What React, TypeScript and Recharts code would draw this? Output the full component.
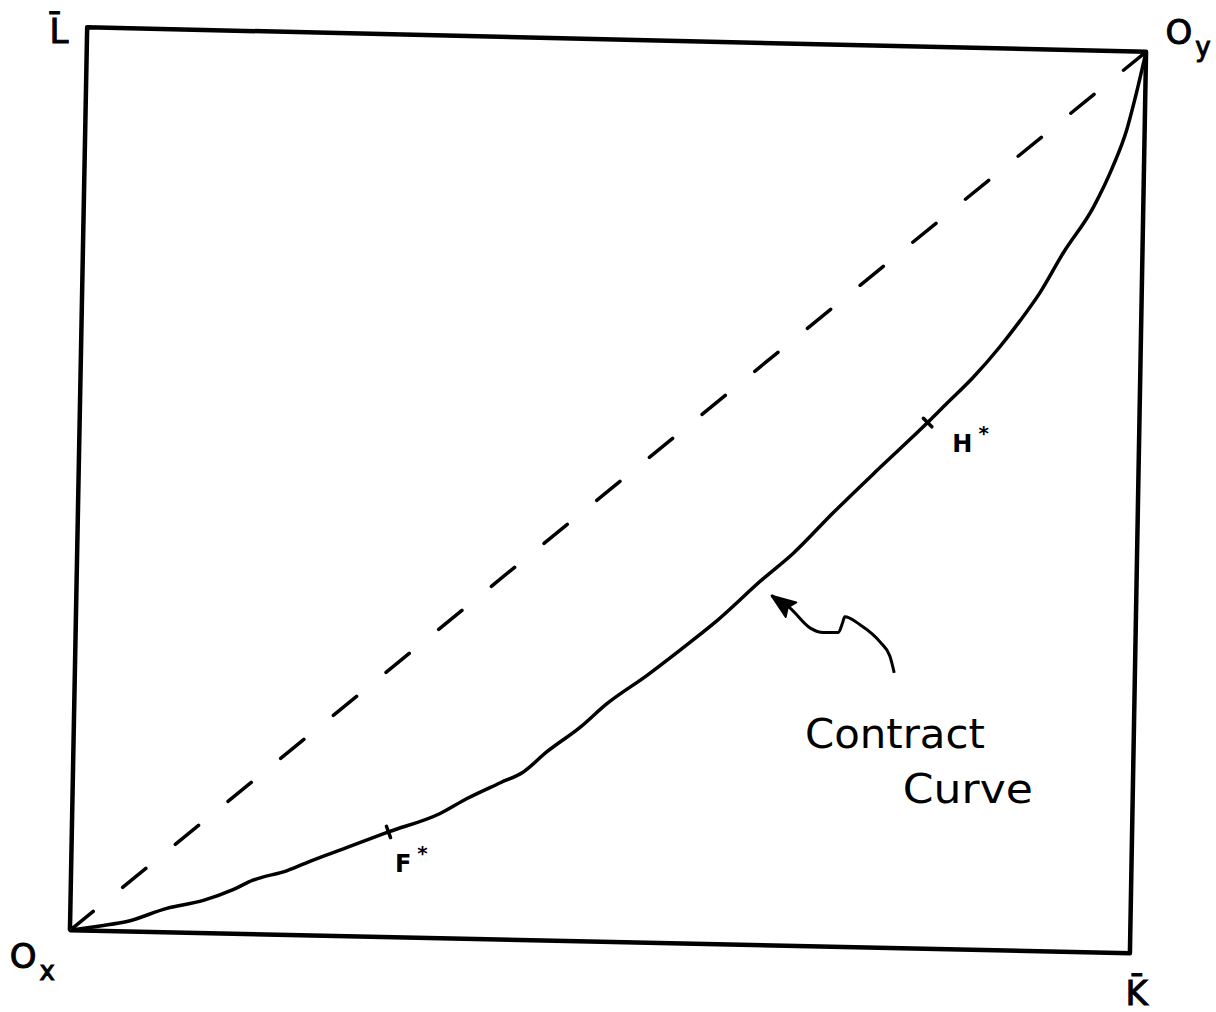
import { ComposedChart, Line, Scatter, XAxis, YAxis } from "recharts";

const W = 1216;
const H = 1012;

// capital K along x, labour L along y; the hand drawn box is a bit skewed
const BOX = [
  { x: 0, y: 0 },
  { x: 9.85, y: -0.26 },
  { x: 10, y: 10 },
  { x: 0.16, y: 10.28 },
  { x: 0, y: 0 },
];

const DIAGONAL = [
  { x: 0, y: 0 },
  { x: 10, y: 10 },
];

const CONTRACT = [
  { x: 0, y: 0 },
  { x: 0.28, y: 0.05 },
  { x: 0.53, y: 0.1 },
  { x: 0.9, y: 0.25 },
  { x: 1.24, y: 0.34 },
  { x: 1.51, y: 0.46 },
  { x: 1.7, y: 0.57 },
  { x: 2.02, y: 0.68 },
  { x: 2.26, y: 0.8 },
  { x: 2.57, y: 0.94 },
  { x: 2.96, y: 1.12 },
  { x: 3.44, y: 1.33 },
  { x: 3.69, y: 1.5 },
  { x: 4.0, y: 1.68 },
  { x: 4.21, y: 1.8 },
  { x: 4.43, y: 2.03 },
  { x: 4.74, y: 2.31 },
  { x: 4.99, y: 2.58 },
  { x: 5.36, y: 2.9 },
  { x: 5.67, y: 3.19 },
  { x: 5.98, y: 3.49 },
  { x: 6.44, y: 4.0 },
  { x: 6.72, y: 4.29 },
  { x: 7.09, y: 4.75 },
  { x: 7.53, y: 5.27 },
  { x: 7.97, y: 5.78 },
  { x: 8.15, y: 6.0 },
  { x: 8.39, y: 6.29 },
  { x: 8.64, y: 6.64 },
  { x: 8.83, y: 6.94 },
  { x: 9.01, y: 7.25 },
  { x: 9.23, y: 7.71 },
  { x: 9.51, y: 8.23 },
  { x: 9.69, y: 8.69 },
  { x: 9.82, y: 9.11 },
  { x: 9.9, y: 9.48 },
  { x: 10, y: 10 },
];

// squiggly pointer from the note to the curve, tip first
const ARROW = [
  { x: 6.52, y: 3.81 },
  { x: 6.69, y: 3.67 },
  { x: 6.88, y: 3.44 },
  { x: 7.0, y: 3.39 },
  { x: 7.14, y: 3.39 },
  { x: 7.18, y: 3.5 },
  { x: 7.2, y: 3.57 },
  { x: 7.34, y: 3.48 },
  { x: 7.53, y: 3.28 },
  { x: 7.62, y: 3.12 },
  { x: 7.66, y: 2.93 },
];

const MARKS = [
  { x: 2.96, y: 1.12, name: "F" },
  { x: 7.97, y: 5.78, name: "H" },
];

const POINT_LABELS = [
  { x: 3.02, y: 0.66, text: "F", sup: "*" },
  { x: 8.2, y: 5.44, text: "H", sup: "*" },
];

const CORNER_LABELS = [
  { x: -0.19, y: 10.1, text: "L\u0304", sub: "" },
  { x: 9.81, y: -0.85, text: "K\u0304", sub: "" },
  { x: -0.56, y: -0.43, text: "O", sub: "x" },
  { x: 10.18, y: 10.09, text: "O", sub: "y" },
];

const NOTE = [
  { x: 6.83, y: 2.08, text: "Contract", len: 180 },
  { x: 7.74, y: 1.45, text: "Curve", len: 130 },
];

const TICK_ANGLE: Record<string, number> = { F: 70, H: 45 };

const FONT = "'DejaVu Sans', sans-serif";

function ArrowHead(props: any) {
  const { cx, cy, index } = props;
  if (index !== 0 || cx == null) return <g key={`a${index}`} />;
  return (
    <polygon
      key="head"
      points="0,0 -24,-9 -20,0 -24,9"
      fill="#000"
      stroke="#000"
      strokeWidth={2}
      strokeLinejoin="round"
      transform={`translate(${cx},${cy}) rotate(216)`}
    />
  );
}

function TickMark(props: any) {
  const { cx, cy, payload } = props;
  const a = ((TICK_ANGLE[payload.name] ?? 90) * Math.PI) / 180;
  const dx = Math.cos(a) * 6;
  const dy = Math.sin(a) * 6;
  return (
    <line
      x1={cx - dx}
      y1={cy - dy}
      x2={cx + dx}
      y2={cy + dy}
      stroke="#000"
      strokeWidth={3.5}
      strokeLinecap="round"
    />
  );
}

function PointLabel(props: any) {
  const { cx, cy, payload } = props;
  return (
    <text x={cx} y={cy} fontFamily={FONT} fontSize={24} fontWeight="bold" fill="#000">
      {payload.text}
      <tspan dx={6} dy={-12} fontSize={20}>
        {payload.sup}
      </tspan>
    </text>
  );
}

function CornerLabel(props: any) {
  const { cx, cy, payload } = props;
  return (
    <text
      x={cx}
      y={cy}
      fontFamily={FONT}
      fontSize={34}
      fill="#000"
      stroke="#000"
      strokeWidth={1}
    >
      {payload.text}
      {payload.sub ? (
        <tspan dx={3} dy={12} fontSize={26}>
          {payload.sub}
        </tspan>
      ) : null}
    </text>
  );
}

function NoteLabel(props: any) {
  const { cx, cy, payload } = props;
  return (
    <text
      x={cx}
      y={cy}
      fontFamily={FONT}
      fontSize={40}
      fill="#000"
      textLength={payload.len}
      lengthAdjust="spacingAndGlyphs"
    >
      {payload.text}
    </text>
  );
}

export default function App() {
  return (
    <div
      style={{
        position: "absolute",
        left: 0,
        top: 0,
        width: W,
        height: H,
        background: "#fff",
      }}
    >
      <ComposedChart
        width={W}
        height={H}
        margin={{ top: 0, right: 0, bottom: 0, left: 0 }}
      >
        <XAxis
          type="number"
          dataKey="x"
          domain={[-0.65, 10.65]}
          allowDataOverflow
          hide
        />
        <YAxis
          type="number"
          dataKey="y"
          domain={[-0.93, 10.59]}
          allowDataOverflow
          hide
        />
        <Line
          data={BOX}
          dataKey="y"
          type="linear"
          stroke="#000"
          strokeWidth={4.5}
          strokeLinejoin="round"
          dot={false}
          isAnimationActive={false}
        />
        <Line
          data={DIAGONAL}
          dataKey="y"
          type="linear"
          stroke="#000"
          strokeWidth={3.5}
          strokeDasharray="30 38"
          strokeLinecap="round"
          dot={false}
          isAnimationActive={false}
        />
        <Line
          data={CONTRACT}
          dataKey="y"
          type="monotone"
          stroke="#000"
          strokeWidth={3.5}
          dot={false}
          isAnimationActive={false}
        />
        <Line
          data={ARROW}
          dataKey="y"
          type="monotone"
          stroke="#000"
          strokeWidth={3}
          dot={ArrowHead}
          isAnimationActive={false}
        />
        <Scatter data={MARKS} shape={TickMark} isAnimationActive={false} />
        <Scatter data={POINT_LABELS} shape={PointLabel} isAnimationActive={false} />
        <Scatter data={CORNER_LABELS} shape={CornerLabel} isAnimationActive={false} />
        <Scatter data={NOTE} shape={NoteLabel} isAnimationActive={false} />
      </ComposedChart>
    </div>
  );
}
